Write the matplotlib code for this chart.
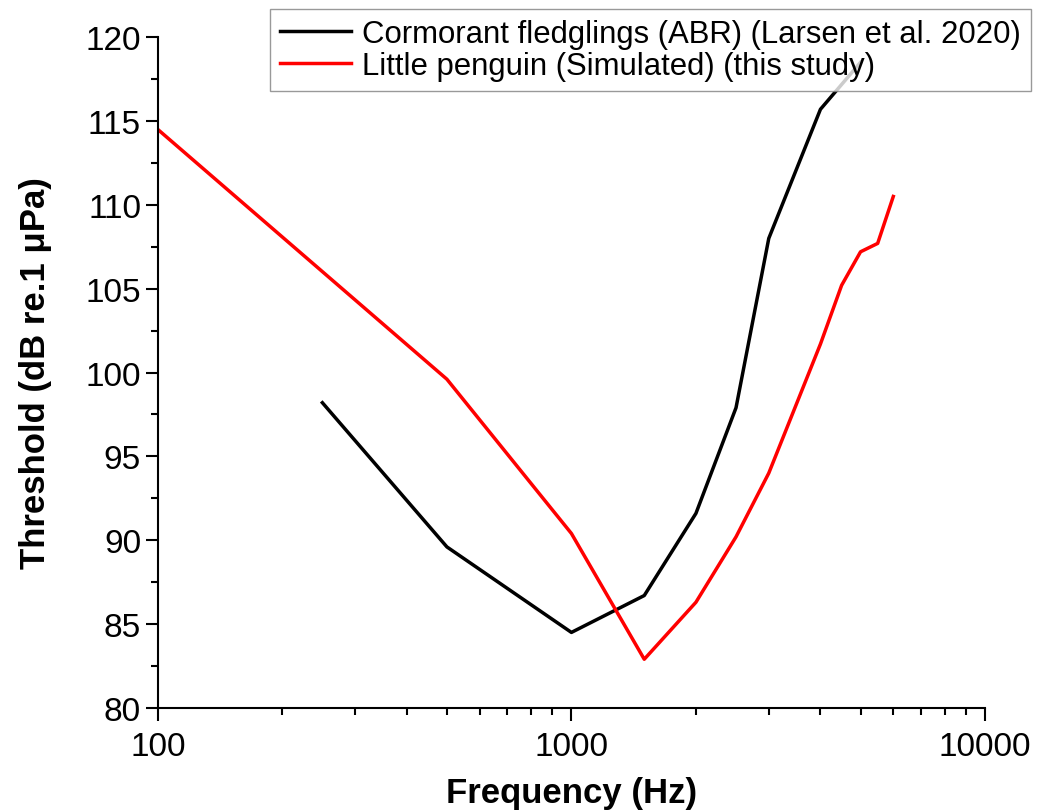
import matplotlib
matplotlib.use("Agg")
import matplotlib.pyplot as plt
from matplotlib.ticker import MultipleLocator, LogLocator, NullFormatter, FixedLocator

# threshold data
freq_cormorant = [250, 500, 1000, 1500, 2000, 2500, 3000, 4000, 5000]
thr_cormorant = [98.2, 89.6, 84.5, 86.7, 91.6, 97.9, 108.0, 115.7, 118.5]

freq_penguin = [100, 500, 1000, 1500, 2000, 2500, 3000, 4000, 4500, 5000, 5500, 6000]
thr_penguin = [114.5, 99.6, 90.4, 82.9, 86.3, 90.2, 94.0, 101.7, 105.2, 107.2, 107.7, 110.5]

label_cormorant = "Cormorant fledglings (ABR) (Larsen et al. 2020)"
label_penguin = "Little penguin (Simulated) (this study)"

plt.rcParams['font.family'] = ['Liberation Sans', 'DejaVu Sans']

fig = plt.figure(figsize=(10.38, 8.12), dpi=100)
ax = fig.add_axes([0.152, 0.127, 0.797, 0.826])

ax.plot(freq_cormorant, thr_cormorant, color='black', lw=2.5, label=label_cormorant)
ax.plot(freq_penguin, thr_penguin, color='red', lw=2.5, label=label_penguin)

ax.set_xscale('log')
ax.set_xlim(100, 10000)
ax.set_ylim(80, 120)

ax.xaxis.set_major_locator(FixedLocator([100, 1000, 10000]))
ax.xaxis.set_major_formatter(matplotlib.ticker.FuncFormatter(lambda v, p: "%d" % v))
ax.xaxis.set_minor_locator(LogLocator(base=10, subs=range(2, 10)))
ax.xaxis.set_minor_formatter(NullFormatter())
ax.yaxis.set_major_locator(MultipleLocator(5))
ax.yaxis.set_minor_locator(MultipleLocator(2.5))

for s in ['top', 'right']:
    ax.spines[s].set_visible(False)
for s in ['left', 'bottom']:
    ax.spines[s].set_linewidth(1.5)

ax.tick_params(which='major', direction='out', length=9, width=1.5, labelsize=24, pad=3)
ax.tick_params(axis='x', which='major', pad=8)
ax.tick_params(which='minor', direction='out', length=5, width=1.5)

ax.set_xlabel("Frequency (Hz)", fontsize=25, fontweight='bold', labelpad=10)
ax.set_ylabel("Threshold (dB re.1 \u03bcPa)", fontsize=25, fontweight='bold', labelpad=24)

leg = fig.legend(loc='upper right', bbox_to_anchor=(0.993, 0.988), fontsize=22.4,
                 frameon=True, fancybox=False, handlelength=2.3, borderpad=0.33,
                 labelspacing=0.05, handletextpad=0.33, borderaxespad=0)
leg.get_frame().set_edgecolor('gray')
leg.get_frame().set_linewidth(1.0)

fig.savefig("out.png", dpi=100)
